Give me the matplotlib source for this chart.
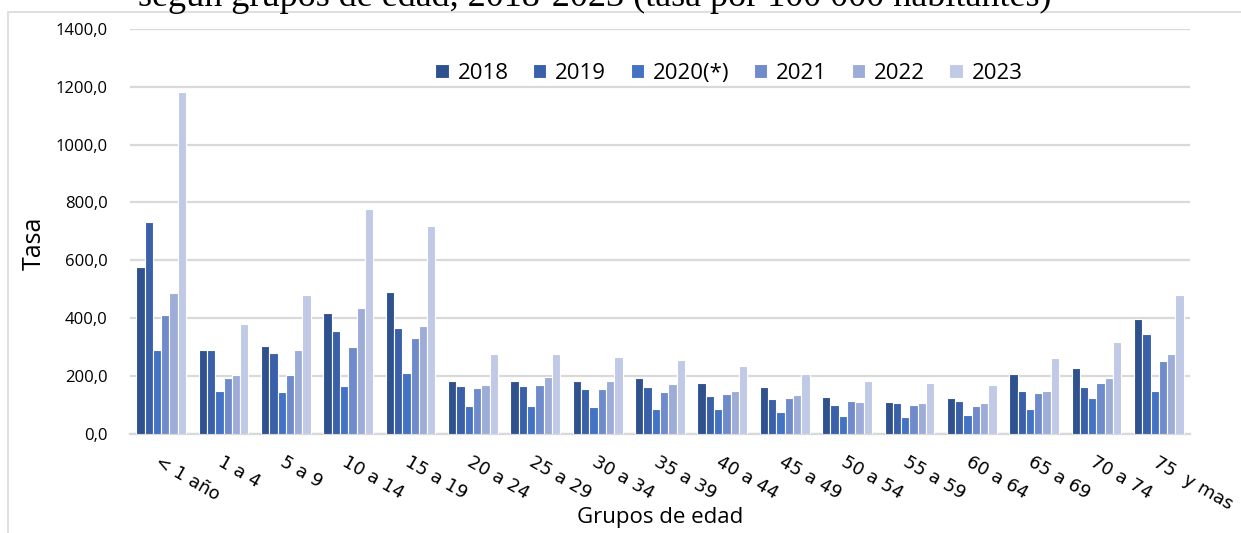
import matplotlib
matplotlib.use("Agg")
import matplotlib.pyplot as plt
from matplotlib.patches import Rectangle
import numpy as np

categories = ["< 1 año", "1 a 4", "5 a 9", "10 a 14", "15 a 19", "20 a 24", "25 a 29",
              "30 a 34", "35 a 39", "40 a 44", "45 a 49", "50 a 54", "55 a 59",
              "60 a 64", "65 a 69", "70 a 74", "75  y mas"]
series_names = ["2018", "2019", "2020(*)", "2021", "2022", "2023"]
v2018 = [578, 290, 302, 417, 491, 182, 181, 184, 191, 174, 161, 127, 109, 122, 208, 229, 398]
v2019 = [732, 291, 279, 354, 367, 164, 164, 156, 161, 130, 121, 99, 105, 113, 148, 162, 346]
v2020 = [290, 147, 144, 166, 210, 95, 97, 92, 84, 86, 74, 62, 59, 63, 85, 125, 147]
v2021 = [411, 192, 202, 299, 330, 158, 169, 153, 145, 136, 125, 112, 99, 95, 140, 175, 252]
v2022 = [488, 202, 291, 436, 374, 167, 197, 182, 172, 147, 133, 109, 107, 106, 146, 192, 276]
v2023 = [1181, 379, 481, 777, 717, 277, 277, 266, 256, 233, 207, 181, 175, 168, 263, 316, 481]
yticks = [0, 200, 400, 600, 800, 1000, 1200, 1400]
colors = ["#2F528F", "#3A60A9", "#4472C4", "#6F8BCB", "#9EADD8", "#C0CAE6"]

series = [v2018, v2019, v2020, v2021, v2022, v2023]

W, H = 1241, 533
fig = plt.figure(figsize=(W / 100, H / 100), dpi=100)
ax = fig.add_axes([130 / W, 1 - 433.7 / H, 1060 / W, (433.7 - 29) / H])

x = np.arange(len(categories))
bw = 0.133
for i, (vals, name) in enumerate(zip(series, series_names)):
    ax.bar(x + (i - 2.5) * bw, vals, width=bw, color=colors[i], edgecolor="white",
           linewidth=0.8, label=name, zorder=3)

ax.set_xlim(-0.5, len(categories) - 0.5)
ax.set_ylim(0, 1400)
ax.set_yticks(yticks)
ax.set_yticklabels([f"{t:.1f}".replace(".", ",") for t in yticks],
                   fontsize=12, family="Open Sans")
ax.yaxis.grid(True, color="#D9D9D9", linewidth=1.6, zorder=0)
ax.set_axisbelow(True)
for s in ["top", "right", "left"]:
    ax.spines[s].set_visible(False)
ax.spines["bottom"].set_color("#D9D9D9")
ax.spines["bottom"].set_linewidth(1.6)
ax.tick_params(axis="both", length=0)
ax.tick_params(axis="y", pad=16)

ax.set_xticks(x)
ax.set_xticklabels(categories, rotation=-30, ha="left", va="top",
                   rotation_mode="anchor", fontsize=13, family="DejaVu Sans")
ax.tick_params(axis="x", pad=14)

ax.set_ylabel("Tasa", fontsize=18, family="Open Sans")
ax.yaxis.set_label_coords(-0.079, 0.471)
fig.text(660 / W, 1 - 518 / H, "Grupos de edad", fontsize=16, family="Open Sans",
         ha="center", va="center")

leg = ax.legend(loc="upper center", bbox_to_anchor=(0.565, 0.965), ncol=6, frameon=False,
                prop={"family": "Open Sans", "size": 16},
                handlelength=0.6, handleheight=0.6, handletextpad=0.4, columnspacing=1.1)

fig.text(595 / W, 1 - 6 / H, "según grupos de edad, 2018-2023 (tasa por 100 000 habitantes)",
         fontsize=26, family="Liberation Serif", ha="center", va="baseline")

fig.patches.append(Rectangle((8 / W, -0.01), 1.0, 1 - 12 / H + 0.01, transform=fig.transFigure,
                             fill=False, edgecolor="#D9D9D9", linewidth=1.2))

fig.savefig("out.png", dpi=100)
